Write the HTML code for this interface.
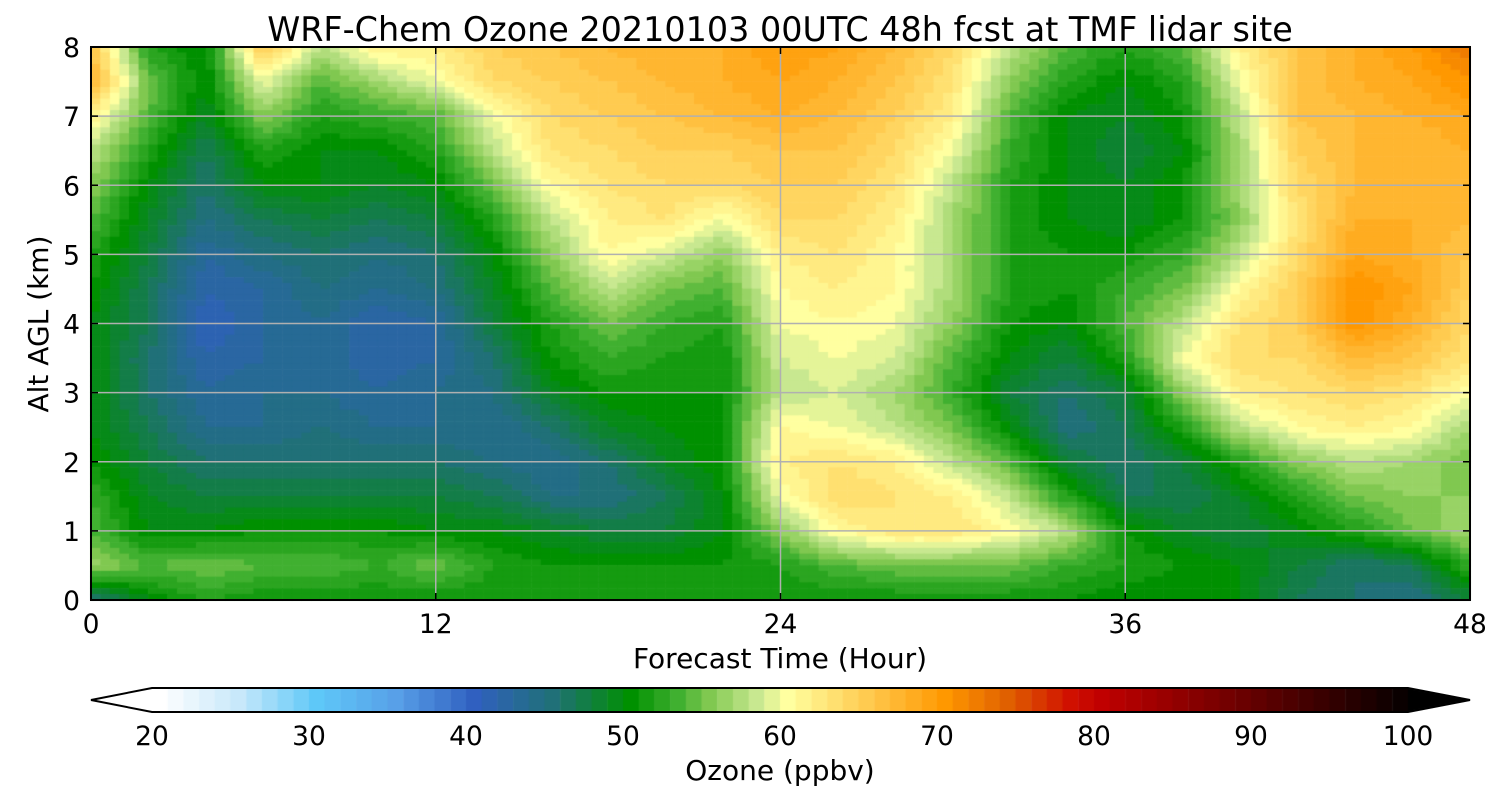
<!DOCTYPE html>
<html><head><meta charset="utf-8"><style>
body{margin:0;background:#fff;font-family:"DejaVu Sans","Liberation Sans",sans-serif;}
#wrap{position:relative;width:1500px;height:800px;overflow:hidden;}
canvas{position:absolute;left:0;top:0;}
svg{position:absolute;left:0;top:0;font-family:"DejaVu Sans","Liberation Sans",sans-serif;}
</style></head><body>
<div id="wrap">
<canvas id="cv" width="1500" height="800"></canvas>
<svg id="sv" width="1500" height="800"></svg>
</div>
<script>
const hours=[0,2,4,6,8,10,12,14,16,18,20,22,24,26,28,30,32,34,36,38,40,42,44,46,48];
const alts=[8,7.5,7,6.5,6,5.5,5,4.5,4,3.5,3,2.5,2,1.5,1,0.5,0];
const r80=[66,52,50,66,58,62,62,65,66,67,68,68,70,69,67,64,58,54,52,54,62,66,68,70,73];
const r75=[68,55,50,60,54,57,60,64,65,66,67,68,69,68,66,63,56,52,50,52,60,66,68,69,71];
const r70=[62,54,49,56,52,53,54,60,64,65,66,67,68,67,65,62,54,50,49,51,58,66,67,68,69];
const r65=[58,52,47,52,50,50,52,58,63,64,65,65,66,66,64,60,53,50,48,50,57,65,67,67,68];
const r60=[56,50,46,50,50,49,50,55,61,63,64,64,65,65,63,58,52,50,49,51,57,64,67,67,67];
const r55=[54,49,45,47,48,47,48,52,58,62,63,60,64,64,62,57,52,50,49,51,56,63,68,68,67];
const r50=[52,48,43,45,46,45,46,50,56,61,59,56,62,63,61,57,52,51,51,53,58,64,69,68,66];
const r45=[51,47,42,43,45,44,45,49,54,58,55,54,61,62,61,57,52,51,53,55,61,65,71,69,65];
const r40=[50,47,41,43,44,42,43,48,52,55,53,52,60,61,60,56,51,50,54,58,63,65,71,68,64];
const r35=[50,46,42,43,44,42,43,46,51,53,52,51,59,60,59,54,50,48,52,60,64,64,67,66,63];
const r30=[50,46,43,44,44,43,44,45,49,51,51,51,58,59,57,53,48,46,48,56,62,63,64,63,60];
const r25=[50,47,44,44,45,44,44,44,46,49,50,51,61,60,58,55,50,45,47,52,58,61,62,61,57];
const r20=[51,48,46,46,46,46,46,45,44,46,49,51,62,63,62,58,54,48,46,48,52,56,58,57,55];
const r15=[53,49,48,48,48,48,48,47,45,45,47,50,60,64,63,62,58,52,47,47,49,52,55,56,56];
const r10=[54,50,50,51,51,51,50,50,49,48,48,50,56,61,63,63,61,58,51,49,48,50,52,55,57];
const r05=[57,54,55,54,54,53,55,52,51,51,51,51,52,54,55,55,55,53,52,51,50,48,46,47,53];
const r00=[45,50,52,51,51,51,51,51,51,51,51,51,51,51,51,51,51,51,50,50,50,47,46,45,48];
const grid=[r80,r75,r70,r65,r60,r55,r50,r45,r40,r35,r30,r25,r20,r15,r10,r05,r00];
const xTicks=[0,12,24,36,48];
const yTicks=[0,1,2,3,4,5,6,7,8];
const cbTicks=[20,30,40,50,60,70,80,90,100];

const X0=91,X1=1470,Y0=600,Y1=47;
const xs=h=>X0+(h-0)/48*(X1-X0);
const ys=a=>Y0-(a/8)*(Y0-Y1);
const CB0=152,CB1=1408,CBY=688,CBH=24;
const cbx=v=>CB0+(v-20)/80*(CB1-CB0);

const stops=[[20,[255,255,255]],[25,[200,232,250]],[30,[94,200,248]],[35,[88,160,232]],[40,[48,96,192]],[45,[32,112,120]],[50,[0,144,0]],[53,[64,176,48]],[55,[128,200,80]],[58,[200,232,144]],[60,[255,255,160]],[63,[255,224,112]],[66,[255,192,64]],[70,[255,152,0]],[74,[224,96,0]],[78,[208,16,0]],[80,[192,0,0]],[90,[96,0,0]],[100,[0,0,0]]];
function cmap(v){v=Math.floor(v);v=Math.max(20,Math.min(100,v));
 for(let i=0;i<stops.length-1;i++){const[a,ca]=stops[i],[b,cb]=stops[i+1];
  if(v>=a&&v<=b){const t=(v-a)/(b-a);return `rgb(${ca.map((c,k)=>Math.round(c+(cb[k]-c)*t)).join(',')})`;}}
 return 'rgb(0,0,0)';}

const ctx=document.getElementById('cv').getContext('2d');
const N=6;
for(let j=0;j<alts.length-1;j++)for(let i=0;i<hours.length-1;i++){
 const v00=grid[j][i],v01=grid[j][i+1],v10=grid[j+1][i],v11=grid[j+1][i+1];
 const xa=xs(hours[i]),xb=xs(hours[i+1]),ya=ys(alts[j]),yb=ys(alts[j+1]);
 for(let p=0;p<N;p++)for(let q=0;q<N;q++){
  const u=(q+0.5)/N,w=(p+0.5)/N;
  const v=(v00*(1-u)+v01*u)*(1-w)+(v10*(1-u)+v11*u)*w;
  ctx.fillStyle=cmap(v);
  ctx.fillRect(xa+(xb-xa)*q/N-0.3,ya+(yb-ya)*p/N-0.3,(xb-xa)/N+0.6,(yb-ya)/N+0.6);
 }}
for(let v=20;v<100;v++){ctx.fillStyle=cmap(v);ctx.fillRect(cbx(v),CBY,cbx(v+1)-cbx(v)+0.5,CBH);}
ctx.fillStyle='#000';ctx.beginPath();ctx.moveTo(CB1,CBY);ctx.lineTo(1470,CBY+CBH/2);ctx.lineTo(CB1,CBY+CBH);ctx.fill();

const sv=document.getElementById('sv');const NS='http://www.w3.org/2000/svg';
function el(t,a,txt){const e=document.createElementNS(NS,t);for(const k in a)e.setAttribute(k,a[k]);if(txt!==undefined)e.textContent=txt;sv.appendChild(e);return e;}
for(const h of xTicks){if(h>0&&h<48){const g=el('line',{x1:xs(h),x2:xs(h),y1:Y1,y2:Y0,stroke:'#b0b0b0','stroke-width':1.5});
}
 const t=el('text',{x:xs(h),y:633,'font-size':26.5,'text-anchor':'middle'},h);
 
 el('line',{x1:xs(h),x2:xs(h),y1:Y0,y2:Y0-7,stroke:'#000','stroke-width':1.5});
 el('line',{x1:xs(h),x2:xs(h),y1:Y1,y2:Y1+7,stroke:'#000','stroke-width':1.5});}
for(const a of yTicks){if(a>0&&a<8){const g=el('line',{x1:X0,x2:X1,y1:ys(a),y2:ys(a),stroke:'#b0b0b0','stroke-width':1.5});
}
 const t=el('text',{x:80,y:ys(a)+10,'font-size':26.5,'text-anchor':'end'},a);
 
 el('line',{x1:X0,x2:X0+7,y1:ys(a),y2:ys(a),stroke:'#000','stroke-width':1.5});
 el('line',{x1:X1,x2:X1-7,y1:ys(a),y2:ys(a),stroke:'#000','stroke-width':1.5});}
const fr=el('rect',{x:X0,y:Y1,width:X1-X0,height:Y0-Y1,fill:'none',stroke:'#000','stroke-width':2});

const ti=el('text',{x:780,y:41,'font-size':33.4,'text-anchor':'middle'},'WRF-Chem Ozone 20210103 00UTC 48h fcst at TMF lidar site');

const xl=el('text',{x:780,y:668,'font-size':28,'text-anchor':'middle'},'Forecast Time (Hour)');

const yl=el('text',{x:48,y:324,'font-size':28,'text-anchor':'middle',transform:'rotate(-90 48 324)'},'Alt AGL (km)');

const cbo=el('path',{d:`M${CB0},${CBY} L${CB1},${CBY} L1470,${CBY+CBH/2} L${CB1},${CBY+CBH} L${CB0},${CBY+CBH} L91,${CBY+CBH/2} Z`,fill:'none',stroke:'#000','stroke-width':2});

for(const v of cbTicks){const t=el('text',{x:cbx(v),y:745,'font-size':26.5,'text-anchor':'middle'},v);
 }
const cl=el('text',{x:780,y:780,'font-size':28,'text-anchor':'middle','xml:space':'preserve'},'Ozone  (ppbv)');

</script>
</body></html>
